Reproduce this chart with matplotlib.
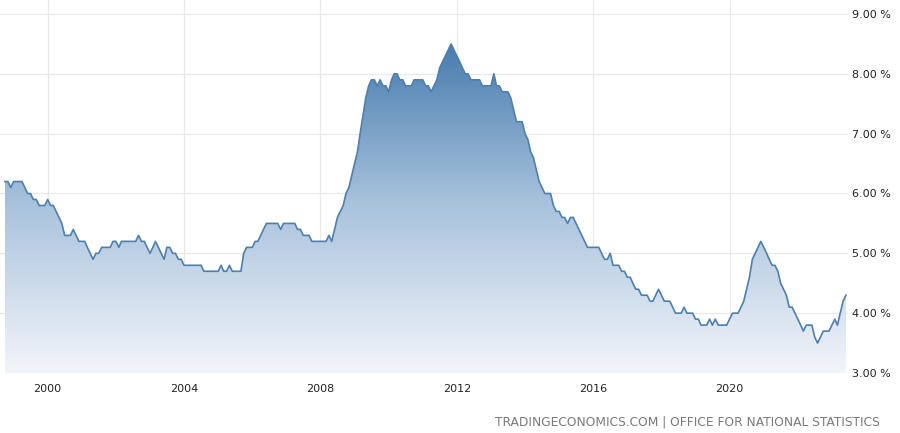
import matplotlib
matplotlib.use("Agg")
import matplotlib.pyplot as plt
import matplotlib.dates as mdates
import numpy as np
import pandas as pd
from matplotlib.colors import LinearSegmentedColormap

# UK unemployment rate, monthly (Oct 1998 - Jun 2023)
rate_1998 = [6.2, 6.2, 6.1]  # Oct-Dec
rate_1999 = [6.2, 6.2, 6.2, 6.2, 6.1, 6.0, 6.0, 5.9, 5.9, 5.8, 5.8, 5.8]
rate_2000 = [5.9, 5.8, 5.8, 5.7, 5.6, 5.5, 5.3, 5.3, 5.3, 5.4, 5.3, 5.2]
rate_2001 = [5.2, 5.2, 5.1, 5.0, 4.9, 5.0, 5.0, 5.1, 5.1, 5.1, 5.1, 5.2]
rate_2002 = [5.2, 5.1, 5.2, 5.2, 5.2, 5.2, 5.2, 5.2, 5.3, 5.2, 5.2, 5.1]
rate_2003 = [5.0, 5.1, 5.2, 5.1, 5.0, 4.9, 5.1, 5.1, 5.0, 5.0, 4.9, 4.9]
rate_2004 = [4.8, 4.8, 4.8, 4.8, 4.8, 4.8, 4.8, 4.7, 4.7, 4.7, 4.7, 4.7]
rate_2005 = [4.7, 4.8, 4.7, 4.7, 4.8, 4.7, 4.7, 4.7, 4.7, 5.0, 5.1, 5.1]
rate_2006 = [5.1, 5.2, 5.2, 5.3, 5.4, 5.5, 5.5, 5.5, 5.5, 5.5, 5.4, 5.5]
rate_2007 = [5.5, 5.5, 5.5, 5.5, 5.4, 5.4, 5.3, 5.3, 5.3, 5.2, 5.2, 5.2]
rate_2008 = [5.2, 5.2, 5.2, 5.3, 5.2, 5.4, 5.6, 5.7, 5.8, 6.0, 6.1, 6.3]
rate_2009 = [6.5, 6.7, 7.0, 7.3, 7.6, 7.8, 7.9, 7.9, 7.8, 7.9, 7.8, 7.8]
rate_2010 = [7.7, 7.9, 8.0, 8.0, 7.9, 7.9, 7.8, 7.8, 7.8, 7.9, 7.9, 7.9]
rate_2011 = [7.9, 7.8, 7.8, 7.7, 7.8, 7.9, 8.1, 8.2, 8.3, 8.4, 8.5, 8.4]
rate_2012 = [8.3, 8.2, 8.1, 8.0, 8.0, 7.9, 7.9, 7.9, 7.9, 7.8, 7.8, 7.8]
rate_2013 = [7.8, 8.0, 7.8, 7.8, 7.7, 7.7, 7.7, 7.6, 7.4, 7.2, 7.2, 7.2]
rate_2014 = [7.0, 6.9, 6.7, 6.6, 6.4, 6.2, 6.1, 6.0, 6.0, 6.0, 5.8, 5.7]
rate_2015 = [5.7, 5.6, 5.6, 5.5, 5.6, 5.6, 5.5, 5.4, 5.3, 5.2, 5.1, 5.1]
rate_2016 = [5.1, 5.1, 5.1, 5.0, 4.9, 4.9, 5.0, 4.8, 4.8, 4.8, 4.7, 4.7]
rate_2017 = [4.6, 4.6, 4.5, 4.4, 4.4, 4.3, 4.3, 4.3, 4.2, 4.2, 4.3, 4.4]
rate_2018 = [4.3, 4.2, 4.2, 4.2, 4.1, 4.0, 4.0, 4.0, 4.1, 4.0, 4.0, 4.0]
rate_2019 = [3.9, 3.9, 3.8, 3.8, 3.8, 3.9, 3.8, 3.9, 3.8, 3.8, 3.8, 3.8]
rate_2020 = [3.9, 4.0, 4.0, 4.0, 4.1, 4.2, 4.4, 4.6, 4.9, 5.0, 5.1, 5.2]
rate_2021 = [5.1, 5.0, 4.9, 4.8, 4.8, 4.7, 4.5, 4.4, 4.3, 4.1, 4.1, 4.0]
rate_2022 = [3.9, 3.8, 3.7, 3.8, 3.8, 3.8, 3.6, 3.5, 3.6, 3.7, 3.7, 3.7]
rate_2023 = [3.8, 3.9, 3.8, 4.0, 4.2, 4.3]  # Jan-Jun

y_ticks = [3, 4, 5, 6, 7, 8, 9]
x_tick_years = [2000, 2004, 2008, 2012, 2016, 2020]
source_text = "TRADINGECONOMICS.COM | OFFICE FOR NATIONAL STATISTICS"

rates = np.array(
    rate_1998 + rate_1999 + rate_2000 + rate_2001 + rate_2002 + rate_2003
    + rate_2004 + rate_2005 + rate_2006 + rate_2007 + rate_2008 + rate_2009
    + rate_2010 + rate_2011 + rate_2012 + rate_2013 + rate_2014 + rate_2015
    + rate_2016 + rate_2017 + rate_2018 + rate_2019 + rate_2020 + rate_2021
    + rate_2022 + rate_2023
)
dates = pd.date_range("1998-10-01", periods=len(rates), freq="MS")
x = mdates.date2num(dates)

fig = plt.figure(figsize=(9, 4.33), dpi=100)
ax = fig.add_axes([0.0, 0.1386, 0.9422, 0.8614])

line_color = "#4f7fae"
grid_color = "#e9e9e9"

ymin, ymax = 3.0, 9.0 + 14 / 59.8
# small margin either side of the data
x_left = x[0] - 5 / 2.833 * 30.4
x_right = x[-1] + 2 / 2.833 * 30.4
ax.set_xlim(x_left, x_right)
ax.set_ylim(ymin, ymax)

# gradient area fill, clipped to the polygon under the line
poly = ax.fill_between(x, rates, ymin, facecolor="none", edgecolor="none")
cmap = LinearSegmentedColormap.from_list("tefill", ["#f2f5fa", "#a9c3dd", "#4479ad"])
grad = np.linspace(0, 1, 256).reshape(-1, 1)
img = ax.imshow(grad, cmap=cmap, aspect="auto", origin="lower",
                extent=[x[0], x[-1], ymin, 8.6], zorder=1)
img.set_clip_path(poly.get_paths()[0], transform=ax.transData)

ax.plot(x, rates, color=line_color, lw=1.2, zorder=3)

# grid
for yv in y_ticks:
    ax.axhline(yv, color=grid_color, lw=0.9, zorder=0)
tick_pos = mdates.date2num([pd.Timestamp(f"{yr}-01-01") for yr in x_tick_years])
for xv in tick_pos:
    ax.axvline(xv, color=grid_color, lw=0.9, zorder=0)

for s in ax.spines.values():
    s.set_visible(False)

ax.set_xticks(tick_pos)
ax.set_xticklabels([str(yr) for yr in x_tick_years], fontsize=8, color="#222222")
ax.tick_params(axis="x", length=0, pad=8)

ax.yaxis.tick_right()
ax.set_yticks(y_ticks)
ax.set_yticklabels([f"{v:.2f} %" for v in y_ticks], fontsize=8, color="#222222")
ax.tick_params(axis="y", length=0, pad=3)

fig.text(880 / 900, 11 / 433, source_text, ha="right", va="center",
         fontsize=8.8, color="#7a7a7a")

fig.savefig("out.png", dpi=100)
